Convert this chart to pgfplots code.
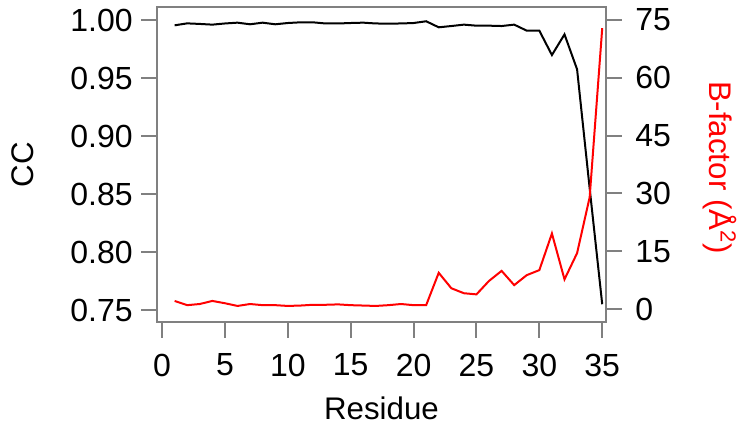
\documentclass[border=0pt]{standalone}
\usepackage{fontspec}
\setmainfont{Liberation Sans}
\usepackage{pgfplots}
\pgfplotsset{compat=1.18}
\definecolor{axgray}{RGB}{128,128,128}

% residue vs correlation coefficient
\pgfplotstableread{
res cc
1 0.9954
2 0.9971
3 0.9966
4 0.9960
5 0.9970
6 0.9977
7 0.9963
8 0.9977
9 0.9963
10 0.9974
11 0.9980
12 0.9980
13 0.9970
14 0.9970
15 0.9974
16 0.9977
17 0.9970
18 0.9969
19 0.9970
20 0.9974
21 0.9989
22 0.9937
23 0.9948
24 0.9960
25 0.9951
26 0.9951
27 0.9948
28 0.9960
29 0.9908
30 0.9908
31 0.9698
32 0.9876
33 0.9575
34 0.8550
35 0.7550
}\cctable

% residue vs B-factor
\pgfplotstableread{
res b
1 2.1
2 1.0
3 1.3
4 2.1
5 1.5
6 0.8
7 1.3
8 1.0
9 1.0
10 0.8
11 0.9
12 1.1
13 1.1
14 1.2
15 1.0
16 0.9
17 0.8
18 1.0
19 1.3
20 1.0
21 1.0
22 9.4
23 5.4
24 4.1
25 3.8
26 7.3
27 9.9
28 6.2
29 8.8
30 10.1
31 19.6
32 7.7
33 14.5
34 29.0
35 72.9
}\btable

\pgfplotsset{
  base/.style={
    scale only axis,
    width=179.6pt, height=126pt,
    at={(62.8pt,42.8pt)}, anchor=south west,
    xmin=-0.4, xmax=35.3,
    tick align=outside,
    major tick length=6.2pt,
    every tick/.style={axgray, line width=0.8pt},
    axis line style={axgray, line width=0.8pt},
    tick label style={font=\fontsize{12.8}{14}\selectfont},
    label style={font=\fontsize{12.5}{14}\selectfont},
    /pgf/number format/assume math mode=true,
  },
}

\begin{document}
\begin{tikzpicture}
\path[use as bounding box] (0,0) rectangle (300pt,171.6pt);

\begin{axis}[base,
  ymin=0.7397, ymax=1.0112,
  xtick={0,5,...,35},
  ytick={0.75,0.80,0.85,0.90,0.95,1.00},
  yticklabels={0.75,0.80,0.85,0.90,0.95,1.00},
  xtick pos=bottom, ytick pos=left,
  xticklabel style={yshift=-3pt},
  xlabel={Residue}, ylabel={CC},
  xlabel style={at={(axis description cs:0.5,-0.273)}, anchor=center},
  ylabel style={at={(axis description cs:-0.30,0.5)}, anchor=center},
]
\addplot[black, line width=0.8pt, no markers] table[x=res, y=cc] {\cctable};
\end{axis}

\begin{axis}[base,
  ymin=-3.37, ymax=78.4,
  axis x line=none,
  axis y line*=right,
  ytick={0,15,...,75},
  yticklabel style={xshift=2pt},
  ylabel={B-factor (Å\textsuperscript{2})},
  ylabel style={red, at={(axis description cs:1.254,0.49)}, anchor=center, rotate=180},
]
\addplot[red, line width=0.8pt, no markers] table[x=res, y=b] {\btable};
\end{axis}
\end{tikzpicture}
\end{document}
